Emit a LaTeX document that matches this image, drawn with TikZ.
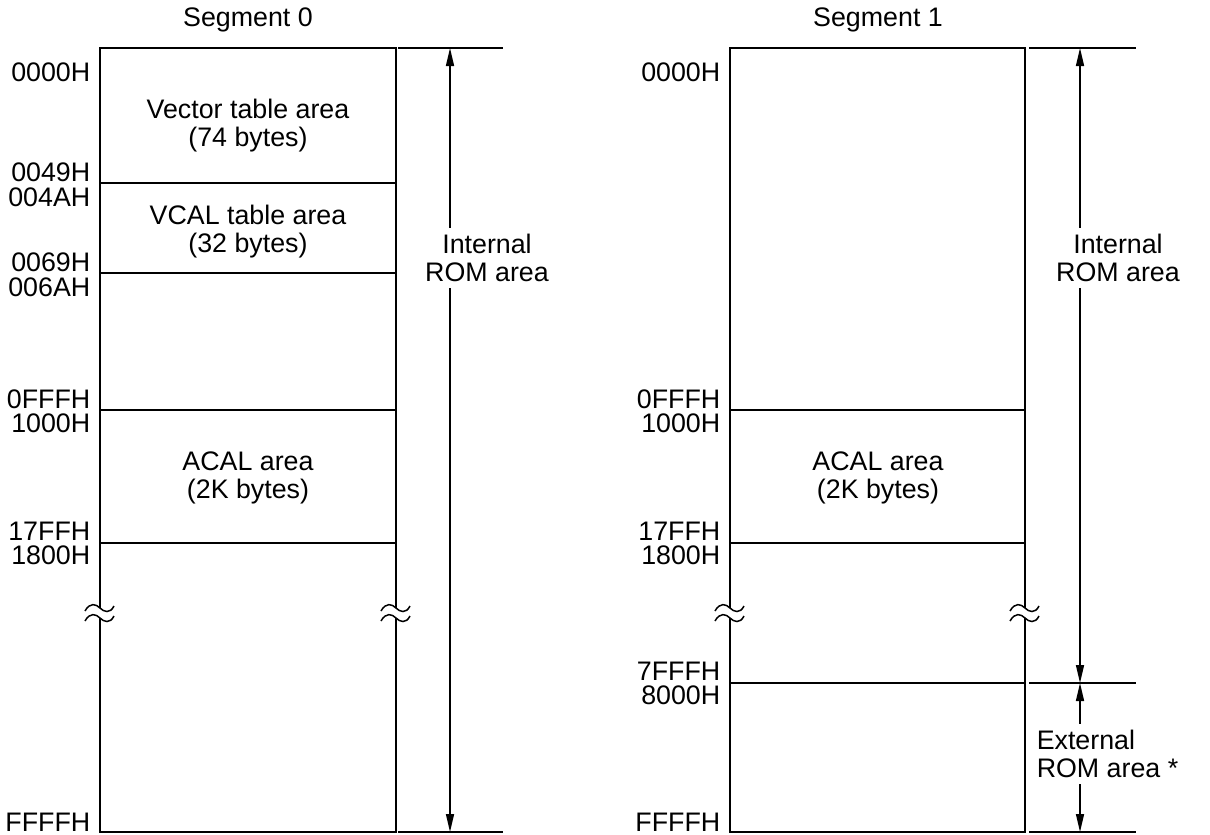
\documentclass[tikz,border=0pt]{standalone}
\usepackage{fontspec}
\setmainfont{Liberation Sans}
\usetikzlibrary{arrows.meta}

\tikzset{
  addr/.style={anchor=east, inner sep=0pt},
  area/.style={align=center, inner sep=0pt},
  span/.style={align=center, fill=white, inner sep=3pt},
  dim/.style={{Triangle[length=9pt,width=4pt]}-{Triangle[length=9pt,width=4pt]}},
  brkmark/.pic={
    \draw[line width=0.75pt] (-15,3) .. controls (-10,-6) and (-4,-4) .. (0,0)
      .. controls (4,4) and (10,6) .. (14,-2);
  }
}

\begin{document}
\begin{tikzpicture}[x=0.5pt, y=-0.5pt, line width=0.75pt,
    every node/.style={font=\fontsize{13.4}{14}\selectfont}]
  \useasboundingbox (0,0) rectangle (1210,835);

  % Segment 0
  \node (seg0) at (248,20) {Segment 0};
  \draw (100,608) -- (100,48) -- (396,48) -- (396,608);
  \draw (100,618) -- (100,832) -- (396,832) -- (396,618);
  \pic at (100,608) {brkmark};
  \pic at (100,618) {brkmark};
  \pic at (396,608) {brkmark};
  \pic at (396,618) {brkmark};
  \draw (100,183) -- (396,183);
  \draw (100,273) -- (396,273);
  \draw (100,410) -- (396,410);
  \draw (100,543) -- (396,543);

  \node[addr] (a0000) at (91,72) {0000H};
  \node[addr] (a0049) at (91,172) {0049H};
  \node[addr] (a004a) at (91,197) {004AH};
  \node[addr] (a0069) at (91,262) {0069H};
  \node[addr] (a006a) at (91,287) {006AH};
  \node[addr] (a0fff) at (91,399) {0FFFH};
  \node[addr] (a1000) at (91,423) {1000H};
  \node[addr] (a17ff) at (91,531) {17FFH};
  \node[addr] (a1800) at (91,555) {1800H};
  \node[addr] (affff) at (91,822) {FFFFH};

  \node[area] (vec) at (248,126) {Vector table area\\(74 bytes)};
  \node[area] (vcal) at (248,232) {VCAL table area\\(32 bytes)};
  \node[area] (acal0) at (248,478) {ACAL area\\(2K bytes)};

  \coordinate (top0) at (450,48);
  \coordinate (bot0) at (450,832);
  \draw (398,48) -- (503,48);
  \draw (398,832) -- (503,832);
  \draw[dim] (top0) -- (bot0);
  \node[span] (int0) at (487,258) {Internal\\ROM area};

  % Segment 1
  \node (seg1) at (878,20) {Segment 1};
  \draw (730,608) -- (730,48) -- (1025,48) -- (1025,608);
  \draw (730,618) -- (730,832) -- (1025,832) -- (1025,618);
  \pic at (730,608) {brkmark};
  \pic at (730,618) {brkmark};
  \pic at (1025,608) {brkmark};
  \pic at (1025,618) {brkmark};
  \draw (730,410) -- (1025,410);
  \draw (730,543) -- (1025,543);
  \draw (730,683) -- (1025,683);

  \node[addr] (b0000) at (721,72) {0000H};
  \node[addr] (b0fff) at (721,399) {0FFFH};
  \node[addr] (b1000) at (721,423) {1000H};
  \node[addr] (b17ff) at (721,531) {17FFH};
  \node[addr] (b1800) at (721,555) {1800H};
  \node[addr] (b7fff) at (721,671) {7FFFH};
  \node[addr] (b8000) at (721,695) {8000H};
  \node[addr] (bffff) at (721,822) {FFFFH};

  \node[area] (acal1) at (878,478) {ACAL area\\(2K bytes)};

  \coordinate (top1) at (1080,48);
  \coordinate (mid1) at (1080,683);
  \coordinate (bot1) at (1080,832);
  \draw (1029,48) -- (1136,48);
  \draw (1029,683) -- (1136,683);
  \draw (1029,832) -- (1136,832);
  \draw[dim] (top1) -- (mid1);
  \draw[dim] (mid1) -- (bot1);
  \node[span] (int1) at (1118,258) {Internal\\ROM area};
  \node[span, align=left, anchor=west] (ext1) at (1030,754) {External\\ROM area *};
\end{tikzpicture}
\end{document}
